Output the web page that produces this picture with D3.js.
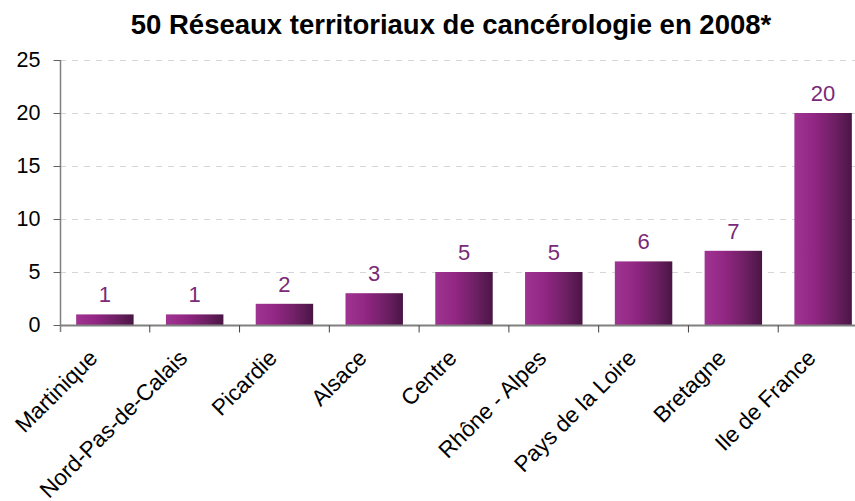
<!DOCTYPE html>
<html>
<head>
<meta charset="utf-8">
<script src="https://cdn.jsdelivr.net/npm/d3@7"></script>
<style>
  body { margin: 0; background: #fff; }
  svg { display: block; font-family: "Liberation Sans", Arial, sans-serif; }
</style>
</head>
<body>
<svg id="chart" width="855" height="501"></svg>
<script>
// Regional cancer networks, 2008
const regions = ["Martinique", "Nord-Pas-de-Calais", "Picardie", "Alsace", "Centre",
                 "Rhône - Alpes", "Pays de la Loire", "Bretagne", "Ile de France"];
const networks = [1, 1, 2, 3, 5, 5, 6, 7, 20];
const yTicks = [0, 5, 10, 15, 20, 25];
const title = "50 Réseaux territoriaux de cancérologie en 2008*";

const svg = d3.select("#chart");
const plotLeft = 60, plotRight = 868, plotTop = 60, plotBottom = 325;

const x = d3.scaleBand().domain(regions).range([plotLeft, plotRight]).paddingInner(0.36).paddingOuter(0.18);
const y = d3.scaleLinear().domain([0, 25]).range([plotBottom, plotTop]);

// Horizontal gradient used for every bar
const defs = svg.append("defs");
const grad = defs.append("linearGradient").attr("id", "barGrad")
  .attr("x1", "0%").attr("x2", "100%").attr("y1", "0%").attr("y2", "0%");
grad.append("stop").attr("offset", "0%").attr("stop-color", "#a03492");
grad.append("stop").attr("offset", "35%").attr("stop-color", "#912683");
grad.append("stop").attr("offset", "70%").attr("stop-color", "#6e2064");
grad.append("stop").attr("offset", "100%").attr("stop-color", "#4a1545");

// Title
svg.append("text")
  .attr("x", 451).attr("y", 34)
  .attr("text-anchor", "middle")
  .attr("font-size", 27.5).attr("font-weight", "bold")
  .attr("fill", "#000")
  .text(title);

// Dashed gridlines
svg.append("g").selectAll("line")
  .data(yTicks.filter(d => d > 0))
  .join("line")
  .attr("x1", plotLeft).attr("x2", plotRight)
  .attr("y1", d => y(d) + 0.5).attr("y2", d => y(d) + 0.5)
  .attr("stroke", "#d6d6d6").attr("stroke-dasharray", "6,6");

const rows = regions.map((r, i) => ({ r, v: networks[i] }));

// Bars
svg.append("g").selectAll("rect")
  .data(rows)
  .join("rect")
  .attr("x", d => x(d.r))
  .attr("y", d => y(d.v))
  .attr("width", x.bandwidth())
  .attr("height", d => y(0) - y(d.v))
  .attr("fill", "url(#barGrad)");

// Value labels
svg.append("g").selectAll("text")
  .data(rows)
  .join("text")
  .attr("x", d => x(d.r) + x.bandwidth() / 2)
  .attr("y", d => y(d.v) - 12)
  .attr("text-anchor", "middle")
  .attr("font-size", 22)
  .attr("fill", "#7a2a78")
  .text(d => d.v);

// Y axis
const yAxis = svg.append("g")
  .attr("transform", `translate(${plotLeft + 0.5},0)`)
  .call(d3.axisLeft(y).tickValues(yTicks).tickSize(7).tickPadding(13));
yAxis.select(".domain").attr("stroke", "#808080").attr("stroke-width", 1.5)
  .attr("d", `M0,${plotTop}V${plotBottom + 7}`);
yAxis.selectAll(".tick line").attr("stroke", "#606060");
yAxis.selectAll(".tick text").attr("font-size", 21.5).attr("fill", "#000")
  .attr("font-family", "Liberation Sans, Arial, sans-serif");

// X axis: baseline with ticks on band boundaries
const xg = svg.append("g").attr("transform", `translate(0,${plotBottom + 0.5})`);
xg.append("line").attr("x1", plotLeft).attr("x2", plotRight)
  .attr("stroke", "#808080").attr("stroke-width", 2);
const step = x.step();
xg.selectAll(".bt")
  .data(regions.slice(1))
  .join("line")
  .attr("class", "bt")
  .attr("x1", d => x(d) - x.paddingInner() * step / 2)
  .attr("x2", d => x(d) - x.paddingInner() * step / 2)
  .attr("y1", 0).attr("y2", 7)
  .attr("stroke", "#404040");

// Rotated category labels
xg.selectAll(".lbl")
  .data(regions)
  .join("text")
  .attr("class", "lbl")
  .attr("text-anchor", "end")
  .attr("font-size", 22.5)
  .attr("fill", "#000")
  .attr("transform", d => `translate(${x(d) + x.bandwidth() / 2 - 6},${34}) rotate(-45)`)
  .text(d => d);
</script>
</body>
</html>
